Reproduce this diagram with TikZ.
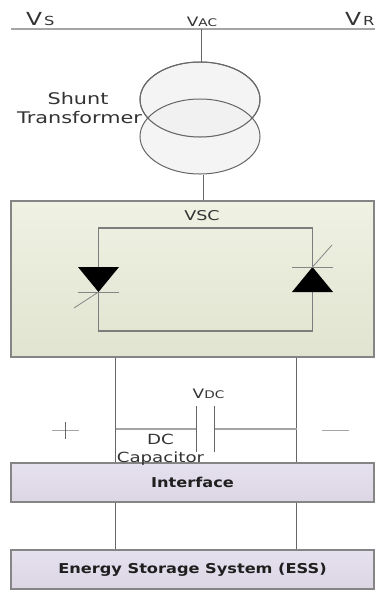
\documentclass[tikz,border=0pt]{standalone}
\usepackage{fontspec}
\setmainfont{DejaVu Sans}
\newfontfamily\wfont[FakeStretch=1.3]{DejaVu Sans}
\newfontfamily\wbfont[FakeStretch=1.19]{DejaVu Sans}
\usetikzlibrary{shapes.geometric}
\definecolor{ln}{HTML}{666666}
\definecolor{lnlight}{HTML}{A5A5A5}
\definecolor{vsctop}{HTML}{EFF1E3}
\definecolor{vscbot}{HTML}{E1E4D0}
\definecolor{purtop}{HTML}{E6E1EE}
\definecolor{purbot}{HTML}{DCD6E4}
\tikzset{
  wire/.style={draw=ln,line width=1.1pt},
  lightwire/.style={draw=lnlight,line width=1.2pt},
  thinwire/.style={draw=ln!80,line width=.8pt},
  coil/.style={draw=ln,line width=1pt,fill=black!6,ellipse,minimum width=120pt,minimum height=75pt,inner sep=0pt,fill opacity=.75},
  vscbox/.style={draw=ln!80,line width=1.1pt,top color=vsctop,bottom color=vscbot,minimum width=363pt,minimum height=156pt,inner sep=0pt},
  purplebox/.style={draw=ln!80,line width=1.1pt,top color=purtop,bottom color=purbot,minimum width=363pt,minimum height=39pt,inner sep=0pt},
  lab/.style={inner sep=0pt,text=black!80},
  blab/.style={inner sep=0pt,text=black!88,font=\wbfont\fontsize{13.6}{14}\selectfont\bfseries},
}
\newcommand{\bigV}[1]{{\wfont\fontsize{18}{18}\selectfont V\kern2pt\fontsize{12.5}{13}\selectfont #1}}
\newcommand{\midV}[1]{{\wfont\fontsize{13}{13}\selectfont V\fontsize{10.5}{11}\selectfont #1}}
\begin{document}
\begin{tikzpicture}[x=1pt,y=-1pt]
\useasboundingbox (0,0) rectangle (375,590);
% bus
\coordinate (busL) at (11,29);
\coordinate (busR) at (375,29);
\coordinate (tap) at (201.5,29);
\draw[lightwire] (busL) -- (busR);
\node[lab,anchor=base west] (vs) at (26,25) {\bigV{S}};
\node[lab,anchor=base] (vac) at (202,26) {\midV{AC}};
\node[lab,anchor=base west] (vr) at (345,25) {\bigV{R}};
% transformer
\node[coil] (t1) at (200,99.5) {};
\node[coil] (t2) at (200,136.5) {};
\draw[draw=ln,line width=1pt] (t1.center) ++(60,0) arc[start angle=0,end angle=-360,x radius=60,y radius=37.5];
\node[lab,anchor=base] (st1) at (78,104) {\wfont\fontsize{16}{16}\selectfont Shunt};
\node[lab,anchor=base] (st2) at (79.5,123.5) {\wfont\fontsize{16}{16}\selectfont Transformer};
\draw[wire] (tap) -- (t1.north -| tap);
% VSC
\node[vscbox] (vsc) at (192.5,279) {};
\node[lab] (vsclab) at (202,216) {\wfont\fontsize{13.5}{14}\selectfont VSC};
\draw[wire] (t2.south -| 203.5,0) -- (vsc.north -| 203.5,0);
% inner loop
\coordinate (a) at (98.5,228); \coordinate (b) at (312.5,228);
\coordinate (c) at (312.5,331); \coordinate (d) at (98.5,331);
\draw[wire,draw=ln!85] (a) -- (b) -- (c) -- (d) -- cycle;
% left thyristor
\fill[black] (78,267) -- (119,267) -- (98.5,292) -- cycle;
\draw[thinwire] (78,292) -- (119,292);
\draw[thinwire] (74,308) -- (98.5,292);
% right thyristor
\fill[black] (292,292) -- (333,292) -- (312.5,267) -- cycle;
\draw[thinwire] (292,267) -- (333,267);
\draw[thinwire] (312.5,267) -- (332,245);
% boxes
\node[purplebox] (iface) at (192.5,482.5) {};
\node[blab] (ifacelab) at (192.5,482.5) {Interface};
\node[purplebox] (ess) at (192.5,569.5) {};
\node[blab] (esslab) at (192.5,569.5) {Energy Storage System (ESS)};
% DC rails
\coordinate (railL) at (115.5,357);
\coordinate (railR) at (296.5,357);
\draw[wire] (vsc.south -| railL) -- (iface.north -| railL);
\draw[wire] (vsc.south -| railR) -- (iface.north -| railR);
\draw[wire] (iface.south -| railL) -- (ess.north -| railL);
\draw[wire] (iface.south -| railR) -- (ess.north -| railR);
% capacitor
\coordinate (p1t) at (196.5,406); \coordinate (p1b) at (196.5,452);
\coordinate (p2t) at (214.5,406); \coordinate (p2b) at (214.5,452);
\coordinate (capL) at (196.5,429); \coordinate (capR) at (214.5,429);
\draw[lightwire] (115.5,429) -- (capL);
\draw[lightwire] (capR) -- (296.5,429);
\draw[wire] (p1t) -- (p1b);
\draw[wire] (p2t) -- (p2b);
\node[lab,anchor=base] (vdc) at (208.5,398) {\midV{DC}};
\node[lab,anchor=base] (dc1) at (160.5,444) {\wfont\fontsize{14}{14}\selectfont DC};
\node[lab,anchor=base] (dc2) at (160.5,462) {\wfont\fontsize{14}{14}\selectfont Capacitor};
% plus and minus
\draw[lightwire] (52,430.5) -- (79,430.5);
\draw[draw=ln,line width=.9pt] (65,422) -- (65,439);
\draw[lightwire] (322,430.5) -- (349,430.5);
\end{tikzpicture}
\end{document}
